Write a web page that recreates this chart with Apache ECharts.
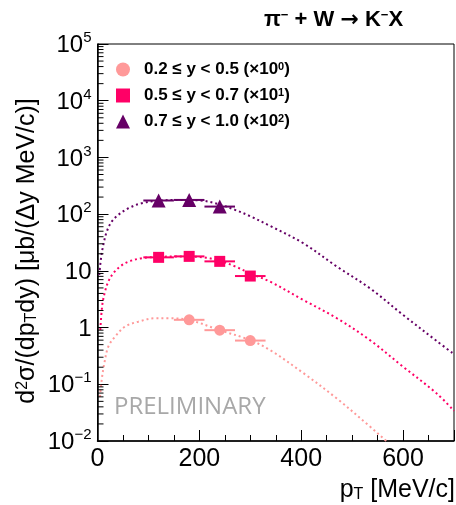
<!DOCTYPE html>
<html>
<head>
<meta charset="utf-8">
<script src="https://cdn.jsdelivr.net/npm/echarts@6/dist/echarts.min.js"></script>
<style>
  html, body { margin: 0; padding: 0; background: #fff; }
  #chart { width: 456px; height: 505px; }
</style>
</head>
<body>
<div id="chart"></div>
<script>
// K- double-differential cross sections in three rapidity bins (unscaled values)
const binLabels = ['0.2 \u2264 y < 0.5', '0.5 \u2264 y < 0.7', '0.7 \u2264 y < 1.0'];
const binScaleExp = [0, 1, 2];
const binColors = ['#ff9999', '#ff0066', '#660066'];
const binSymbols = ['circle', 'rect', 'triangle'];
const binSymbolSizes = [11, 11, 14];

const ptBin0 = [180, 240, 300];
const yieldBin0 = [1.37, 0.90, 0.59];
const ptBin1 = [120, 180, 240, 300];
const yieldBin1 = [1.73, 1.80, 1.47, 0.81];
const ptBin2 = [120, 180, 240];
const yieldBin2 = [1.74, 1.78, 1.36];
const ptHalfBin = 30;

// Fitted spectra (unscaled)
const fitPt0 = [4.9, 8.2, 13.4, 21.2, 34.4, 54, 80, 113, 139, 180, 240, 300, 339, 404, 470, 535, 561, 575];
const fitVal0 = [0.060, 0.119, 0.234, 0.46, 0.69, 1.04, 1.27, 1.46, 1.46, 1.36, 0.90, 0.60, 0.40, 0.158, 0.056, 0.018, 0.0112, 0.0085];
const fitPt1 = [5.5, 9.4, 14.7, 21.2, 31, 44.2, 60.5, 86.8, 120, 150, 180, 211, 240, 270, 300, 339, 404, 470, 535, 600, 666, 700];
const fitVal1 = [0.091, 0.25, 0.43, 0.645, 0.908, 1.19, 1.45, 1.67, 1.76, 1.79, 1.78, 1.72, 1.50, 1.20, 0.90, 0.645, 0.307, 0.146, 0.060, 0.0204, 0.0069, 0.0034];
const fitPt2 = [3.5, 6.9, 11.4, 18.1, 27.9, 40.8, 60.5, 86.8, 120, 160, 200, 240, 270, 300, 339, 404, 470, 535, 600, 666, 700];
const fitVal2 = [0.085, 0.167, 0.286, 0.49, 0.738, 0.968, 1.27, 1.56, 1.73, 1.78, 1.75, 1.48, 1.19, 0.918, 0.619, 0.307, 0.119, 0.0493, 0.0167, 0.0058, 0.0034];

// Axis ranges and ticks
const xMin = 0, xMax = 700, xStep = 200;
const yMin = 0.01, yMax = 100000;
const yMinorFactors = [2, 3, 4, 5, 6, 7, 8, 9];

const points = [[ptBin0, yieldBin0], [ptBin1, yieldBin1], [ptBin2, yieldBin2]];
const fits = [[fitPt0, fitVal0], [fitPt1, fitVal1], [fitPt2, fitVal2]];

const FONT = '"Liberation Sans", Arial, Helvetica, sans-serif';

const series = [];

// fit curves
fits.forEach(([pt, val], i) => {
  const s = Math.pow(10, binScaleExp[i]);
  series.push({
    type: 'line',
    name: 'fit' + i,
    data: pt.map((p, k) => [p, val[k] * s]),
    showSymbol: false,
    smooth: 0.35,
    clip: true,
    silent: true,
    lineStyle: { color: binColors[i], width: 2, type: [2, 3] },
    z: 2
  });
});

// horizontal bin-width bars
points.forEach(([pt, val], i) => {
  const s = Math.pow(10, binScaleExp[i]);
  series.push({
    type: 'custom',
    name: 'bar' + i,
    silent: true,
    data: pt.map((p, k) => [p, val[k] * s]),
    renderItem: (params, api) => {
      const x = api.value(0), y = api.value(1);
      const a = api.coord([x - ptHalfBin, y]);
      const b = api.coord([x + ptHalfBin, y]);
      return {
        type: 'line',
        shape: { x1: a[0], y1: a[1], x2: b[0], y2: b[1] },
        style: { stroke: binColors[i], lineWidth: 2 }
      };
    },
    z: 3
  });
});

// data markers
points.forEach(([pt, val], i) => {
  const s = Math.pow(10, binScaleExp[i]);
  series.push({
    type: 'scatter',
    name: binLabels[i],
    data: pt.map((p, k) => [p, val[k] * s]),
    symbol: binSymbols[i],
    symbolSize: binSymbolSizes[i],
    itemStyle: { color: binColors[i], opacity: 1 },
    z: 4
  });
});

// minor ticks of the logarithmic axis
const yMinorValues = [];
for (let e = Math.round(Math.log10(yMin)); e < Math.round(Math.log10(yMax)); e++) {
  yMinorFactors.forEach(f => yMinorValues.push(f * Math.pow(10, e)));
}
series.push({
  type: 'custom',
  name: 'yMinorTicks',
  silent: true,
  data: yMinorValues.map(v => [xMin, v]),
  renderItem: (params, api) => {
    const p = api.coord([api.value(0), api.value(1)]);
    return {
      type: 'line',
      shape: { x1: p[0], y1: p[1], x2: p[0] + 6, y2: p[1] },
      style: { stroke: '#000', lineWidth: 1 }
    };
  },
  z: 5
});

const supRich = {
  b: { fontFamily: FONT, fontSize: 24, color: '#000', lineHeight: 27, verticalAlign: 'bottom' },
  s: { fontFamily: FONT, fontSize: 15, color: '#000', lineHeight: 15, verticalAlign: 'top' }
};

const option = {
  animation: false,
  backgroundColor: '#fff',
  grid: {
    left: 97.5, right: 2, top: 44, bottom: 64,
    show: true, borderColor: '#000', borderWidth: 1, backgroundColor: 'transparent'
  },
  xAxis: {
    type: 'value',
    min: xMin, max: xMax, interval: xStep,
    axisLine: { show: true, onZero: false, lineStyle: { color: '#000', width: 1.5 } },
    axisTick: { show: true, inside: true, length: 11, lineStyle: { color: '#000', width: 1 } },
    minorTick: { show: true, splitNumber: 4, length: 6, lineStyle: { color: '#000', width: 1 } },
    splitLine: { show: false },
    axisLabel: {
      margin: 6,
      fontFamily: FONT, fontSize: 25, color: '#000',
      showMaxLabel: false,
      formatter: v => (v === xMax ? '' : String(v))
    }
  },
  yAxis: {
    type: 'log',
    logBase: 10,
    min: yMin, max: yMax,
    splitNumber: 7,
    axisLine: { show: true, onZero: false, lineStyle: { color: '#000', width: 1.5 } },
    axisTick: { show: true, inside: true, length: 11, lineStyle: { color: '#000', width: 1 } },
    splitLine: { show: false },
    axisLabel: {
      margin: 6,
      formatter: v => {
        const e = Math.round(Math.log10(v));
        if (e === 0) return '{b|1}';
        if (e === 1) return '{b|10}';
        return '{b|10}{s|' + (e < 0 ? '\u2212' + (-e) : e) + '}';
      },
      rich: supRich
    }
  },
  legend: {
    orient: 'vertical',
    left: 111, top: 56,
    itemGap: 9,
    itemWidth: 14, itemHeight: 14,
    data: binLabels,
    formatter: name => '{g|}' + name + ' (\u00d710{s|' + binScaleExp[binLabels.indexOf(name)] + '})',
    textStyle: {
      fontFamily: FONT, fontSize: 17, fontWeight: 'bold', color: '#000',
      rich: {
        g: { width: 9 },
        s: { fontFamily: FONT, fontSize: 11, fontWeight: 'bold', verticalAlign: 'top', lineHeight: 11 }
      }
    }
  },
  graphic: [
    {
      type: 'text', x: 264, y: 20, z: 10,
      style: {
        text: '\u03c0{s|\u2212} + W {a|\u2192} K{s|\u2212}X',
        font: 'bold 22px ' + FONT, fill: '#000', align: 'left', verticalAlign: 'middle',
        rich: {
          s: { fontSize: 13, fontWeight: 'bold', fontFamily: FONT, verticalAlign: 'top', lineHeight: 13 },
          a: { fontSize: 22, fontWeight: 'bold', fontFamily: '"DejaVu Sans", sans-serif' }
        }
      }
    },
    {
      type: 'text', x: 27, y: 251, rotation: Math.PI / 2, z: 10,
      style: {
        text: 'd{sp|2}\u03c3/(dp{sb|T}dy) [\u03bcb/(\u0394y MeV/c)]',
        font: '25px ' + FONT, fill: '#000', align: 'center', verticalAlign: 'middle',
        rich: {
          sp: { fontSize: 16, fontFamily: FONT, verticalAlign: 'top', lineHeight: 16 },
          sb: { fontSize: 16, fontFamily: FONT, verticalAlign: 'bottom', lineHeight: 16 }
        }
      }
    },
    {
      type: 'text', x: 455, y: 490, z: 10,
      style: {
        text: 'p{sb|T} [MeV/c]',
        font: '25px ' + FONT, fill: '#000', align: 'right', verticalAlign: 'middle',
        rich: { sb: { fontSize: 16, fontFamily: FONT, verticalAlign: 'bottom', lineHeight: 16 } }
      }
    },
    {
      type: 'text', x: 114, y: 407, z: 1,
      style: {
        text: 'PRELIMINARY',
        font: '24px "Open Sans", sans-serif', fill: '#a8a8a8', align: 'left', verticalAlign: 'middle'
      }
    }
  ],
  series: series
};

const chart = echarts.init(document.getElementById('chart'), null, { renderer: 'canvas' });
chart.setOption(option);
</script>
</body>
</html>
